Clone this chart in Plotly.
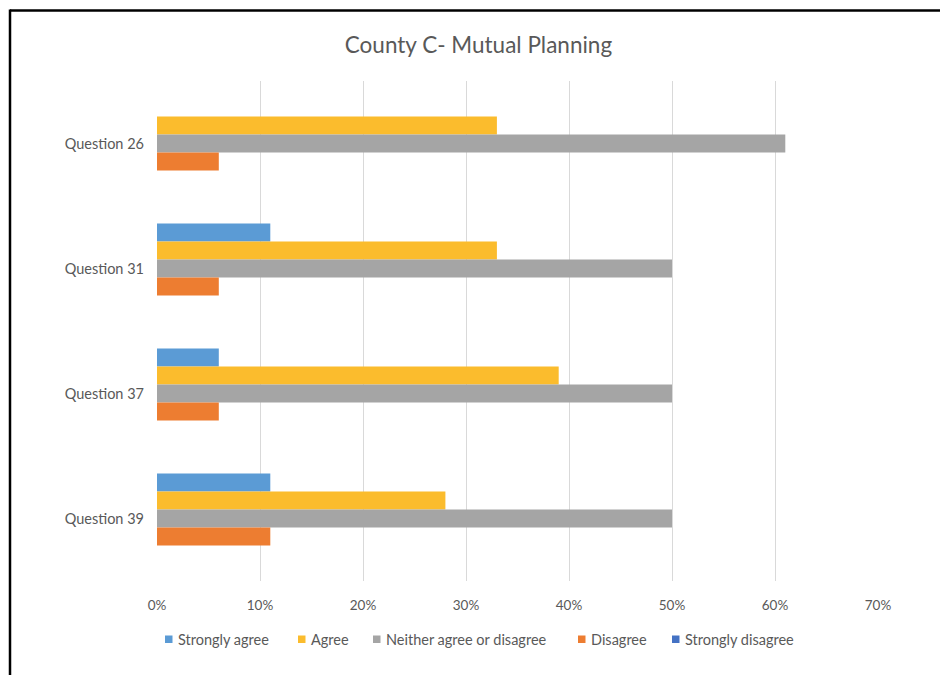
import plotly.graph_objects as go

questions = ["Question 26", "Question 31", "Question 37", "Question 39"]
series_names = ["Strongly agree", "Agree", "Neither agree or disagree", "Disagree", "Strongly disagree"]
strongly_agree = [0.00, 0.11, 0.06, 0.11]
agree = [0.33, 0.33, 0.39, 0.28]
neither = [0.61, 0.50, 0.50, 0.50]
disagree = [0.06, 0.06, 0.06, 0.11]
strongly_disagree = [0.00, 0.00, 0.00, 0.00]
x_ticks = [0, 0.1, 0.2, 0.3, 0.4, 0.5, 0.6, 0.7]

series_values = [strongly_agree, agree, neither, disagree, strongly_disagree]
colors = ["#5B9BD5", "#FBBC2D", "#A5A5A5", "#ED7D31", "#4472C4"]

# plot area in pixels (left, top, width, height)
PL, PT, PW, PH = 157, 81, 721, 500


def px_x(px):
    return (px - PL) / PW


def px_y(py):
    return (PT + PH - py) / PH


fig = go.Figure()
for name, vals, col in zip(series_names, series_values, colors):
    fig.add_trace(go.Bar(
        y=questions, x=vals, name=name, orientation="h",
        marker=dict(color=col, line=dict(width=0)),
        showlegend=False,
    ))

text_color = "#595959"
font_family = "Lato, 'Open Sans', sans-serif"

# compact legend: small colour square followed by its label
legend_square_left = [165, 298, 373, 578, 672]
shapes = []
annotations = []
for name, col, sx in zip(series_names, colors, legend_square_left):
    shapes.append(dict(type="rect", xref="paper", yref="paper",
                       x0=px_x(sx), x1=px_x(sx + 7.5),
                       y0=px_y(635.5), y1=px_y(643),
                       fillcolor=col, line=dict(width=0)))
    annotations.append(dict(text=name, xref="paper", yref="paper",
                            x=px_x(sx + 11), y=px_y(640), xanchor="left",
                            yanchor="middle", showarrow=False,
                            font=dict(size=14.5, color=text_color, family=font_family)))

# chart frame
shapes += [
    dict(type="line", xref="paper", yref="paper",
         x0=px_x(10), x1=px_x(945), y0=px_y(10.5), y1=px_y(10.5),
         line=dict(color="black", width=2.5)),
    dict(type="line", xref="paper", yref="paper",
         x0=px_x(10), x1=px_x(10), y0=px_y(9.5), y1=px_y(680),
         line=dict(color="black", width=2.5)),
]

fig.update_layout(
    width=940, height=675,
    margin=dict(l=PL, r=940 - PL - PW, t=PT, b=675 - PT - PH),
    paper_bgcolor="white", plot_bgcolor="white",
    barmode="group", bargap=0.28, bargroupgap=0,
    font=dict(family=font_family, color=text_color, size=13),
    title=dict(text="County C- Mutual Planning", x=0.509, xanchor="center",
               y=0.933, yanchor="middle",
               font=dict(size=22.5, color=text_color, family=font_family)),
    xaxis=dict(range=[0, 0.7], tickvals=x_ticks, tickformat=".0%",
               showgrid=True, gridcolor="#D9D9D9", gridwidth=1,
               zeroline=False, showline=False, ticks="",
               tickfont=dict(size=13.5, color=text_color), ticklabelstandoff=14),
    yaxis=dict(autorange="reversed", showgrid=False, zeroline=False,
               showline=False, ticks="", ticklabelstandoff=12,
               tickfont=dict(size=14.5, color=text_color)),
    showlegend=False,
    shapes=shapes,
    annotations=annotations,
)

fig.write_html("out.html")
